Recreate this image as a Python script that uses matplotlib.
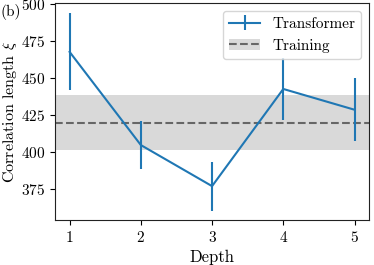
import matplotlib
matplotlib.use("Agg")
import matplotlib.pyplot as plt
from matplotlib.lines import Line2D
from matplotlib.patches import Patch

plt.rcParams.update(
    {
        "font.family": "cmr10",
        "mathtext.fontset": "cm",
        "axes.formatter.use_mathtext": True,
        "font.size": 11,
        "axes.labelsize": 12,
        "xtick.labelsize": 11,
        "ytick.labelsize": 11,
        "ytick.major.pad": 4,
        "legend.fontsize": 11,
    }
)

depth = [1, 2, 3, 4, 5]
xi_mean = [467.5, 404.7, 377, 442.5, 428.5]
xi_err = [26, 16.4, 16.5, 20.7, 21.4]
train_mean = 419.8
train_std = 18.7

fig = plt.figure(figsize=(3.74, 2.65), dpi=100)
ax = fig.add_axes([0.148, 0.168, 0.838, 0.819])

ax.errorbar(depth, xi_mean, yerr=xi_err, color="#1f77b4", lw=1.5, label="Transformer")
ax.axhspan(train_mean - train_std, train_mean + train_std, color="#d9d9d9", lw=0, zorder=0)
ax.axhline(train_mean, color="#666666", ls="--", lw=1.5, zorder=1)

ax.set_xticks(depth)
ax.set_yticks([375, 400, 425, 450, 475, 500])
ax.set_xlabel("Depth", labelpad=3)
ax.set_ylabel(r"Correlation length $\xi$", fontsize=11.5, labelpad=1)
for s in ax.spines.values():
    s.set_color("#222222")

handles, labels = ax.get_legend_handles_labels()
train_handle = (Patch(color="#d9d9d9", lw=0), Line2D([], [], color="#666666", ls="--", lw=1.5))
ax.legend(handles + [train_handle], labels + ["Training"], loc="upper right")

fig.text(0.0, 0.938, "(b)", fontsize=11, va="baseline")

fig.savefig("out.png", dpi=100)
